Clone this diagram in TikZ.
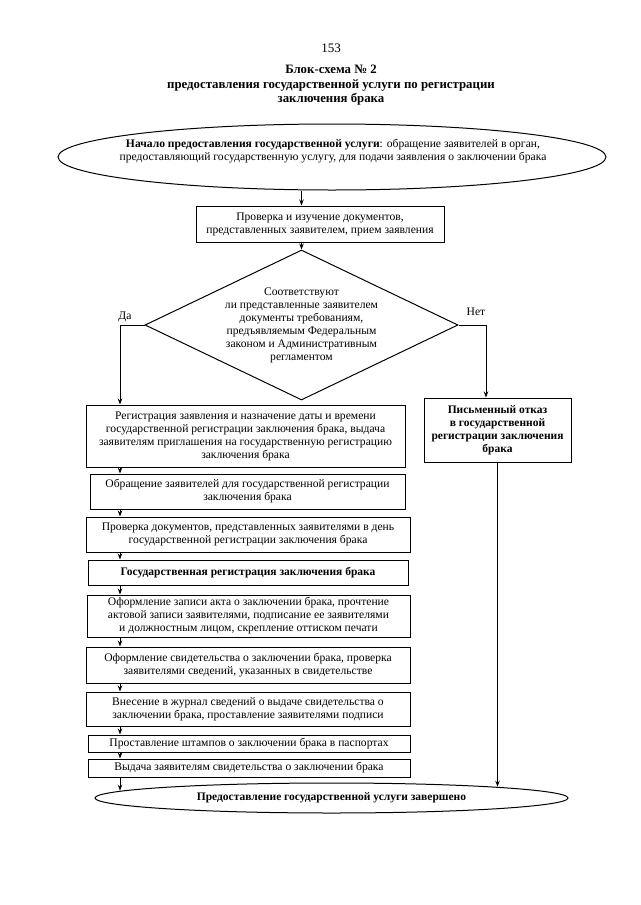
\documentclass[tikz,border=0pt]{standalone}
\usepackage{fontspec}
\setmainfont{Liberation Serif}
\usetikzlibrary{shapes.geometric,arrows.meta,calc}
\begin{document}
\begin{tikzpicture}[x=1pt,y=-1pt,
  txt/.style={font=\fontsize{11.6}{13}\selectfont, align=center, inner sep=0pt},
  boldtxt/.style={font=\bfseries\fontsize{11.5}{13}\selectfont},
  box/.style={draw, line width=1pt, txt},
  ell/.style={draw, ellipse, line width=1pt, inner sep=0pt},
  dia/.style={draw, diamond, line width=1pt, inner sep=0pt},
  arr/.style={-{Stealth[length=6pt,width=4.5pt]}, line width=1pt}]
\useasboundingbox[fill=white] (0,0) rectangle (640,905);

% title
\node[font=\fontsize{13}{15}\selectfont] (pg) at (331,48) {153};
\node[font=\bfseries\fontsize{12.8}{14.5}\selectfont, align=center] (title) at (331,85.5)
  {Блок-схема № 2\\предоставления государственной услуги по регистрации\\заключения брака};

% start ellipse
\node[ell, minimum width=548pt, minimum height=66pt] (start) at (332,157) {};
\node[txt] (starttext) at (333,151.5)
  {\textbf{Начало предоставления государственной услуги}: обращение заявителей в орган,\\
   предоставляющий государственную услугу, для подачи заявления о заключении брака};

% check box
\node[box, minimum width=248pt, minimum height=36pt] (chk) at (320,224)
  {Проверка и изучение документов,\\представленных заявителем, прием заявления};

% decision
\node[dia, minimum width=313pt, minimum height=150pt] (dec) at (301.5,325) {};
\node[txt] (dectext) at (301.5,325)
  {Соответствуют\\ли представленные заявителем\\документы требованиям,\\предъявляемым Федеральным\\законом и Административным\\регламентом};
\node[txt] (yes) at (125,317) {Да};
\node[txt] (no) at (476,312) {Нет};

\coordinate (lx) at (120,0);
\coordinate (rx) at (486,0);

% left column
\node[box, minimum width=319pt, minimum height=62pt] (reg) at (245.5,436)
  {Регистрация заявления и назначение даты и времени\\государственной регистрации заключения брака, выдача\\заявителям приглашения на государственную регистрацию\\заключения брака};
\node[box, minimum width=315pt, minimum height=35pt] (obr) at (247.5,491.5)
  {Обращение заявителей для государственной регистрации\\заключения брака};
\node[box, minimum width=324pt, minimum height=35pt] (prov) at (248,534.5)
  {Проверка документов, представленных заявителями в день\\государственной регистрации заключения брака};
\node[box, boldtxt, minimum width=320pt, minimum height=25pt] (gos) at (248,572.5)
  {Государственная регистрация заключения брака};
\node[box, minimum width=323pt, minimum height=42pt] (zap) at (248.5,616)
  {Оформление записи акта о заключении брака, прочтение\\актовой записи заявителями, подписание ее заявителями\\и должностным лицом, скрепление оттиском печати};
\node[box, minimum width=324pt, minimum height=36pt] (svid) at (248,665)
  {Оформление свидетельства о заключении брака, проверка\\заявителями сведений, указанных в свидетельстве};
\node[box, minimum width=324pt, minimum height=34pt] (vnes) at (248,709)
  {Внесение в журнал сведений о выдаче свидетельства о\\заключении брака, проставление заявителями подписи};
\node[box, minimum width=322pt, minimum height=17pt] (sht) at (249,743.5)
  {Проставление штампов о заключении брака в паспортах};
\node[box, minimum width=322pt, minimum height=18pt] (vyd) at (249,768)
  {Выдача заявителям свидетельства о заключении брака};

% refusal
\node[box, boldtxt, minimum width=147pt, minimum height=64pt] (otk) at (497.5,430)
  {Письменный отказ\\в государственной\\регистрации заключения\\брака};

% end ellipse
\node[ell, boldtxt, minimum width=473pt, minimum height=30pt] (fin) at (331.5,798)
  {Предоставление государственной услуги завершено};

% connectors
\draw[arr] (start.south -| dec.north) -- (chk.north -| dec.north);
\draw[arr] (chk.south -| dec.north) -- (dec.north);
\draw[arr] (dec.west) -- (dec.west -| lx) -- (reg.north -| lx);
\draw[arr] (dec.east) -- (dec.east -| rx) -- (otk.north -| rx);
\draw[arr] (reg.south -| lx) -- (obr.north -| lx);
\draw[arr] (obr.south -| lx) -- (prov.north -| lx);
\draw[arr] (prov.south -| lx) -- (gos.north -| lx);
\draw[arr] (gos.south -| lx) -- (zap.north -| lx);
\draw[arr] (zap.south -| lx) -- (svid.north -| lx);
\draw[arr] (svid.south -| lx) -- (vnes.north -| lx);
\draw[arr] (vnes.south -| lx) -- (sht.north -| lx);
\draw[arr] (sht.south -| lx) -- (vyd.north -| lx);
\draw[arr] (vyd.south -| lx) -- (lx |- fin.178);
\draw[arr] (otk.south) -- (otk.south |- fin.4);
\end{tikzpicture}
\end{document}
